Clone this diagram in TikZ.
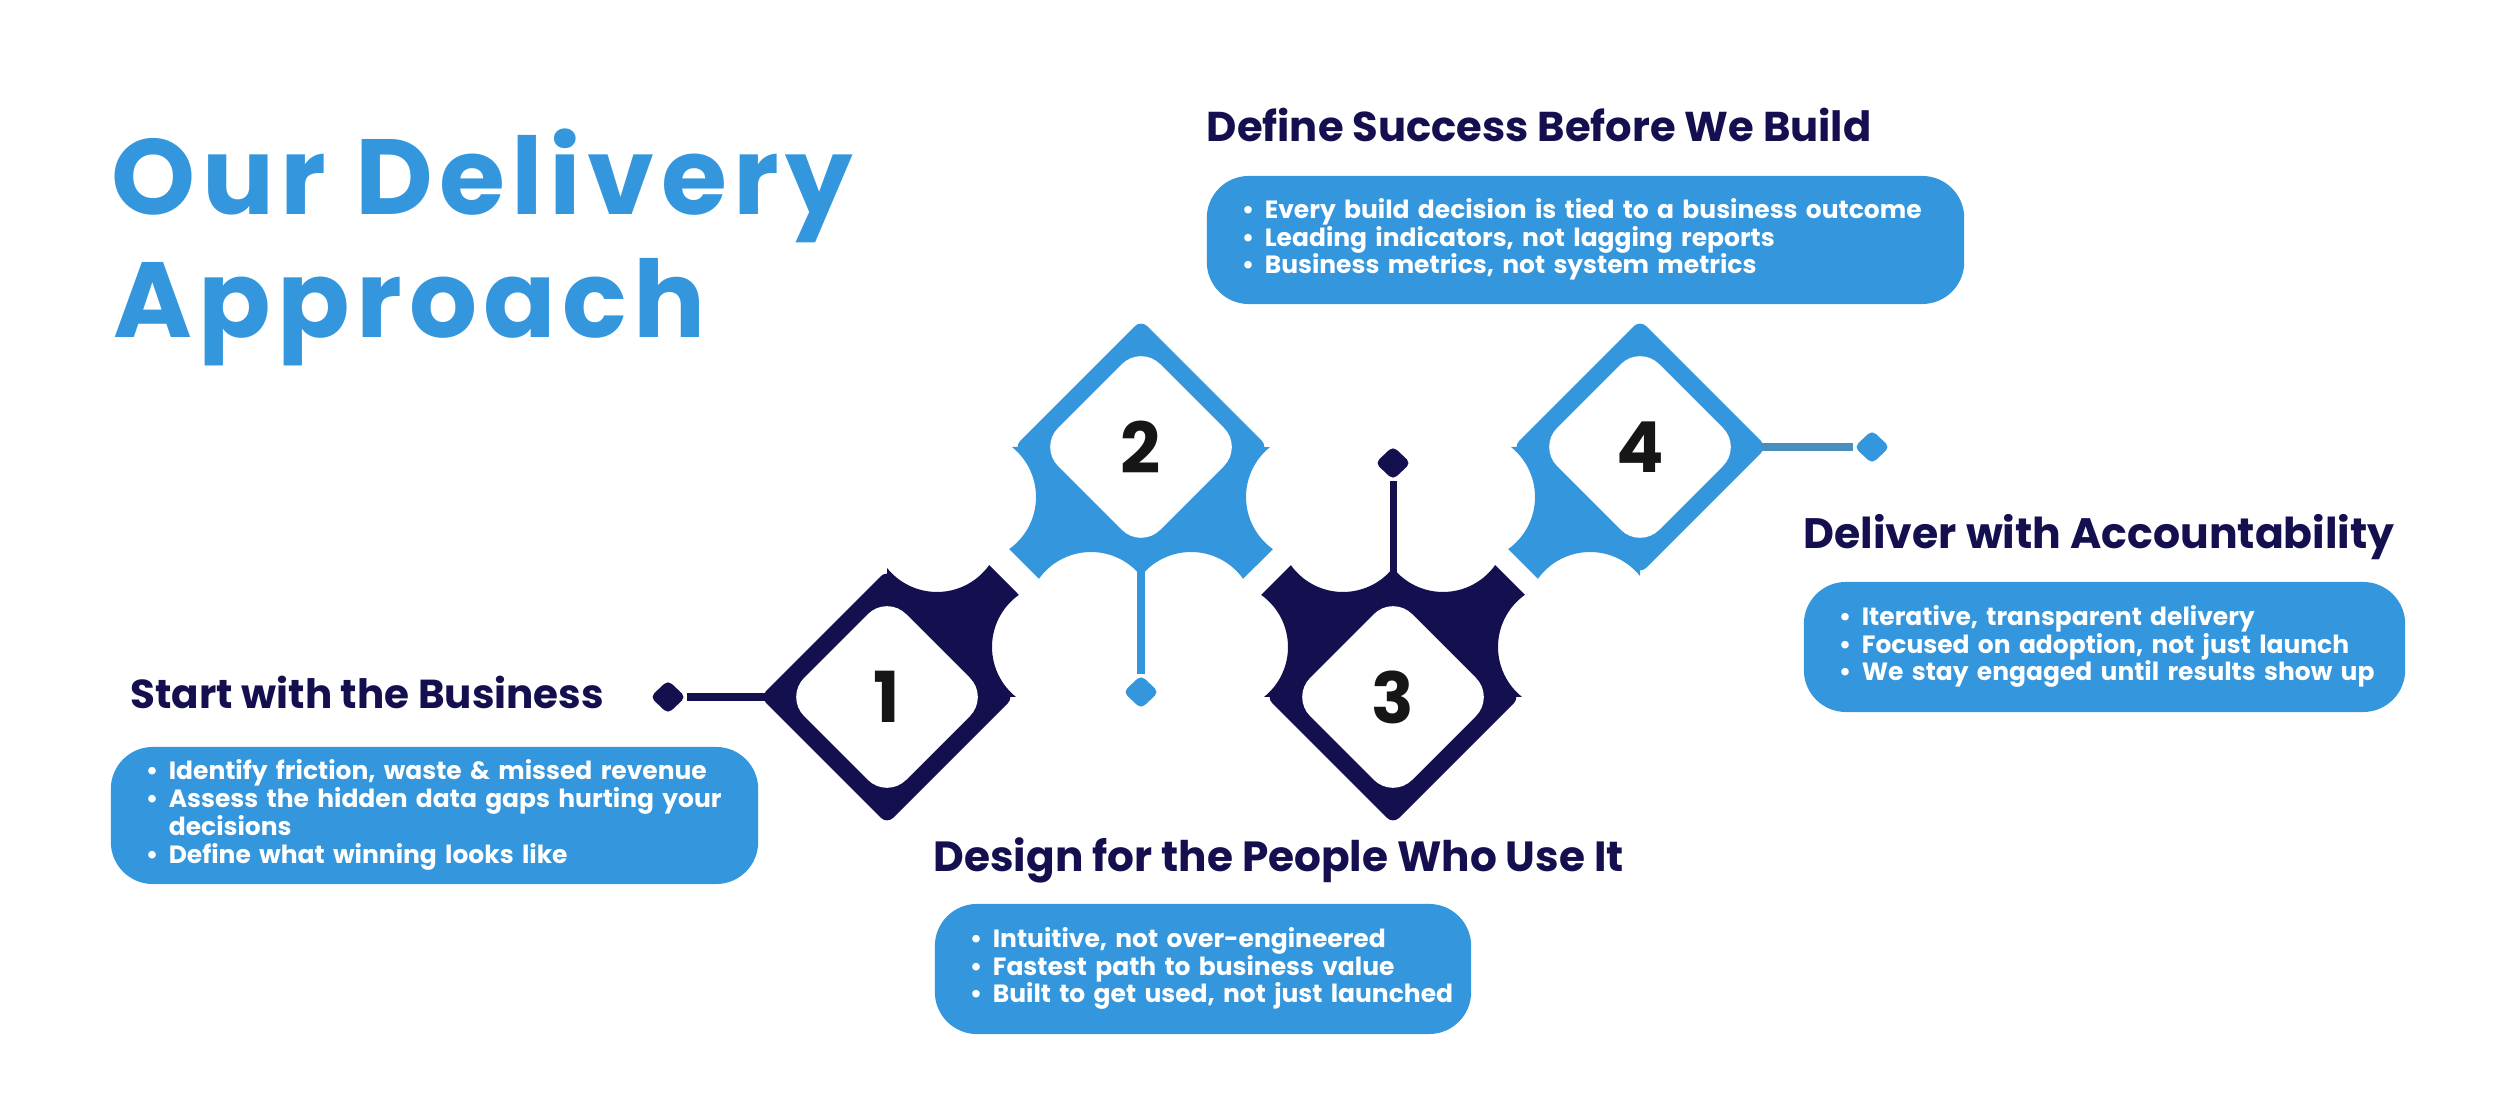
\documentclass[tikz,border=0pt]{standalone}
\usepackage{fontspec}
\setmainfont{Poppins}
\newfontfamily\titlefont[LetterSpace=6]{Poppins}
\usetikzlibrary{shapes.geometric}
\definecolor{navy}{RGB}{20,16,80}
\definecolor{skyblue}{RGB}{52,150,220}
\definecolor{stemblue}{RGB}{72,142,190}
\definecolor{digitgrey}{RGB}{22,22,22}
\tikzset{
  title/.style={
    anchor=base west,
    inner sep=0pt,
    text=skyblue,
    font=\titlefont\fontsize{30.4}{35}\selectfont\bfseries
  },
  heading/.style={
    anchor=base west,
    inner sep=0pt,
    text=navy,
    font=\fontsize{#1}{14}\selectfont\bfseries
  },
  heading/.default=12,
  box/.style={
    rectangle,
    rounded corners=0.42cm,
    fill=skyblue,
    text=white,
    align=left,
    inner xsep=0.35cm,
    inner ysep=0pt,
    font=\fontsize{7.1}{7.5}\selectfont\bfseries
  },
  digit/.style={text=digitgrey, font=\fontsize{20}{20}\selectfont\bfseries},
  enddot/.style={
    diamond,
    inner sep=0pt,
    minimum width=0.36cm,
    minimum height=0.34cm,
    rounded corners=1.5pt
  },
  stem/.style={line width=2pt}
}
% badge: centre, colour, list of wing angles
\newcommand{\badgeshape}[3]{%
  \begin{scope}[shift={#1}]
    \fill[#2, rounded corners=2.5pt] (0,127) -- (-127,0) -- (0,-127) -- (127,0) -- cycle;
    \foreach \w in {#3}
      \fill[#2, rotate=\w] (0,0) -- (-129.05,0)
        arc[start angle=51.38, end angle=-54.53, radius=64]
        -- (-102.13,-131.87)
        arc[start angle=144.53, end angle=38.62, radius=64] -- cycle;
    \fill[white, rounded corners=0.27cm] (0,102) -- (-102,0) -- (0,-102) -- (102,0) -- cycle;
  \end{scope}
}
\newcommand{\bulletlist}[1]{%
  \begin{tabular}{@{}l@{}l@{}}#1\end{tabular}}
\newcommand{\bt}{\makebox[0.23cm][l]{\textbullet}}

\begin{document}
\begin{tikzpicture}[x=0.01cm, y=0.01cm]
  \useasboundingbox (0,0) rectangle (2500,1118);

  % title
  \node[title] (title1) at (111,903) {Our Delivery};
  \node[title] (title2) at (113,780) {Approach};

  % badges
  \badgeshape{(887,421)}{navy}{180}
  \badgeshape{(1141,671)}{skyblue}{0,90}
  \badgeshape{(1393,421)}{navy}{180,270}
  \badgeshape{(1640,671)}{skyblue}{0}

  \node[digit] (n1) at (887,421) {1};
  \node[digit] (n2) at (1141,671) {2};
  \node[digit] (n3) at (1393,421) {3};
  \node[digit] (n4) at (1640,671) {4};

  % stems
  \coordinate (t1) at (766,421);
  \coordinate (t2) at (1141,546);
  \coordinate (t3) at (1393,546);
  \coordinate (t4) at (1761,671);
  \node[enddot, fill=navy] (e1) at (668,421) {};
  \node[enddot, fill=skyblue] (e2) at (1141,426) {};
  \node[enddot, fill=navy] (e3) at (1393,655) {};
  \node[enddot, fill=skyblue] (e4) at (1872,671) {};
  \draw[stem, navy] (t1) -- (e1);
  \draw[stem, skyblue] (t2) -- (e2);
  \draw[stem, navy] (t3) -- (e3);
  \draw[stem, stemblue] (t4) -- (e4);

  % headings
  \node[heading=11.5] (h1) at (130,409) {Start with the Business};
  \node[heading=11.85] (h2) at (1206,976) {Define Success Before We Build};
  \node[heading=12] (h3) at (933,246) {Design for the People Who Use It};
  \node[heading=12.1] (h4) at (1803,569) {Deliver with Accountability};

  % boxes
  \node[box, minimum width=6.47cm, minimum height=1.37cm, text width=5.77cm]
    (box1) at (434.5,302.5) {\bulletlist{
      \bt & Identify friction, waste \& missed revenue\\
      \bt & Assess the hidden data gaps hurting your\\
          & decisions\\
      \bt & Define what winning looks like}};
  \node[box, minimum width=7.57cm, minimum height=1.28cm, text width=6.87cm]
    (box2) at (1585.5,878) {\bulletlist{
      \bt & Every build decision is tied to a business outcome\\
      \bt & Leading indicators, not lagging reports\\
      \bt & Business metrics, not system metrics}};
  \node[box, minimum width=5.36cm, minimum height=1.30cm, text width=4.66cm]
    (box3) at (1203,149) {\bulletlist{
      \bt & Intuitive, not over-engineered\\
      \bt & Fastest path to business value\\
      \bt & Built to get used, not just launched}};
  \node[box, minimum width=6.01cm, minimum height=1.30cm, text width=5.31cm]
    (box4) at (2104.5,471) {\bulletlist{
      \bt & Iterative, transparent delivery\\
      \bt & Focused on adoption, not just launch\\
      \bt & We stay engaged until results show up}};
\end{tikzpicture}
\end{document}
